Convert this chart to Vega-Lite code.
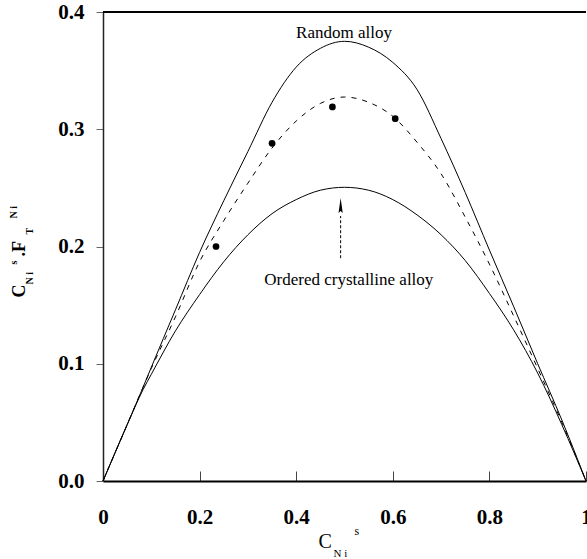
{
  "$schema": "https://vega.github.io/schema/vega-lite/v6.json",
  "width": 483,
  "height": 469,
  "autosize": {"type": "none"},
  "padding": {"left": 103, "top": 12, "right": 1, "bottom": 78},
  "background": "white",
  "config": {"view": {"stroke": null}},
  "datasets": {
    "curves": [
      {"series": "random", "c": 0, "v": 0},
      {"series": "random", "c": 0.05, "v": 0.048},
      {"series": "random", "c": 0.083, "v": 0.08},
      {"series": "random", "c": 0.1, "v": 0.097},
      {"series": "random", "c": 0.15, "v": 0.146},
      {"series": "random", "c": 0.2, "v": 0.195},
      {"series": "random", "c": 0.25, "v": 0.239},
      {"series": "random", "c": 0.3, "v": 0.281},
      {"series": "random", "c": 0.35, "v": 0.323},
      {"series": "random", "c": 0.4, "v": 0.353},
      {"series": "random", "c": 0.45, "v": 0.369},
      {"series": "random", "c": 0.5, "v": 0.375},
      {"series": "random", "c": 0.55, "v": 0.370},
      {"series": "random", "c": 0.6, "v": 0.357},
      {"series": "random", "c": 0.65, "v": 0.334},
      {"series": "random", "c": 0.7, "v": 0.292},
      {"series": "random", "c": 0.75, "v": 0.246},
      {"series": "random", "c": 0.8, "v": 0.197},
      {"series": "random", "c": 0.85, "v": 0.149},
      {"series": "random", "c": 0.9, "v": 0.100},
      {"series": "random", "c": 0.95, "v": 0.052},
      {"series": "random", "c": 1, "v": 0},
      {"series": "fit", "c": 0, "v": 0},
      {"series": "fit", "c": 0.05, "v": 0.048},
      {"series": "fit", "c": 0.083, "v": 0.08},
      {"series": "fit", "c": 0.1, "v": 0.096},
      {"series": "fit", "c": 0.15, "v": 0.140},
      {"series": "fit", "c": 0.2, "v": 0.187},
      {"series": "fit", "c": 0.25, "v": 0.222},
      {"series": "fit", "c": 0.3, "v": 0.254},
      {"series": "fit", "c": 0.35, "v": 0.284},
      {"series": "fit", "c": 0.4, "v": 0.307},
      {"series": "fit", "c": 0.45, "v": 0.322},
      {"series": "fit", "c": 0.5, "v": 0.3275},
      {"series": "fit", "c": 0.55, "v": 0.323},
      {"series": "fit", "c": 0.6, "v": 0.311},
      {"series": "fit", "c": 0.65, "v": 0.289},
      {"series": "fit", "c": 0.7, "v": 0.262},
      {"series": "fit", "c": 0.75, "v": 0.225},
      {"series": "fit", "c": 0.8, "v": 0.185},
      {"series": "fit", "c": 0.85, "v": 0.141},
      {"series": "fit", "c": 0.9, "v": 0.096},
      {"series": "fit", "c": 0.95, "v": 0.050},
      {"series": "fit", "c": 1, "v": 0},
      {"series": "ordered", "c": 0, "v": 0},
      {"series": "ordered", "c": 0.05, "v": 0.048},
      {"series": "ordered", "c": 0.083, "v": 0.078},
      {"series": "ordered", "c": 0.1, "v": 0.091},
      {"series": "ordered", "c": 0.15, "v": 0.128},
      {"series": "ordered", "c": 0.2, "v": 0.159},
      {"series": "ordered", "c": 0.25, "v": 0.187},
      {"series": "ordered", "c": 0.3, "v": 0.210},
      {"series": "ordered", "c": 0.35, "v": 0.228},
      {"series": "ordered", "c": 0.4, "v": 0.240},
      {"series": "ordered", "c": 0.45, "v": 0.248},
      {"series": "ordered", "c": 0.5, "v": 0.2505},
      {"series": "ordered", "c": 0.55, "v": 0.248},
      {"series": "ordered", "c": 0.6, "v": 0.240},
      {"series": "ordered", "c": 0.65, "v": 0.227},
      {"series": "ordered", "c": 0.7, "v": 0.210},
      {"series": "ordered", "c": 0.75, "v": 0.188},
      {"series": "ordered", "c": 0.8, "v": 0.160},
      {"series": "ordered", "c": 0.85, "v": 0.129},
      {"series": "ordered", "c": 0.9, "v": 0.092},
      {"series": "ordered", "c": 0.95, "v": 0.048},
      {"series": "ordered", "c": 1, "v": 0}
    ],
    "points": [
      {"c": 0.234, "v": 0.200},
      {"c": 0.350, "v": 0.288},
      {"c": 0.475, "v": 0.319},
      {"c": 0.605, "v": 0.309}
    ],
    "labels": [
      {"c": 0.499, "v": 0.378, "label": "Random alloy"},
      {"c": 0.509, "v": 0.167, "label": "Ordered crystalline alloy"}
    ],
    "arrow": [
      {"c": 0.492, "v": 0.19, "v2": 0.226, "tip": 0.235}
    ],
    "one": [{"k": 1}]
  },
  "layer": [
    {
      "data": {"name": "curves"},
      "transform": [{"filter": "datum.series !== 'fit'"}],
      "mark": {"type": "line", "color": "black", "strokeWidth": 1, "interpolate": "monotone"},
      "encoding": {
        "x": {
          "field": "c", "type": "quantitative",
          "scale": {"domain": [0, 1], "nice": false},
          "axis": {
            "title": null, "grid": false,
            "values": [0, 0.2, 0.4, 0.6, 0.8, 1],
            "labelExpr": "datum.value == 0 ? '0' : datum.value == 1 ? '1' : format(datum.value, '.1f')",
            "labelFont": "Liberation Serif", "labelFontWeight": "bold", "labelFontSize": 21,
            "labelColor": "black", "labelPadding": 35, "labelFlush": false,
            "tickSize": -10, "tickColor": "#444", "tickWidth": 1,
            "domainColor": "black", "domainWidth": 2
          }
        },
        "y": {
          "field": "v", "type": "quantitative",
          "scale": {"domain": [0, 0.4], "nice": false},
          "axis": {
            "title": null, "grid": false,
            "values": [0, 0.1, 0.2, 0.3, 0.4],
            "format": ".1f",
            "labelFont": "Liberation Serif", "labelFontWeight": "bold", "labelFontSize": 21,
            "labelColor": "black", "labelPadding": 12, "labelFlush": false,
            "tickSize": 7, "tickColor": "#666", "tickWidth": 1,
            "domainColor": "#222", "domainWidth": 1.5
          }
        },
        "detail": {"field": "series"}
      }
    },
    {
      "data": {"name": "curves"},
      "transform": [{"filter": "datum.series === 'fit'"}],
      "mark": {"type": "line", "color": "black", "strokeWidth": 1, "strokeDash": [5, 6], "interpolate": "monotone"},
      "encoding": {
        "x": {"field": "c", "type": "quantitative"},
        "y": {"field": "v", "type": "quantitative"}
      }
    },
    {
      "data": {"name": "points"},
      "mark": {"type": "circle", "color": "black", "opacity": 1, "size": 45},
      "encoding": {
        "x": {"field": "c", "type": "quantitative"},
        "y": {"field": "v", "type": "quantitative"}
      }
    },
    {
      "data": {"name": "one"},
      "mark": {"type": "rule", "color": "black", "strokeWidth": 2},
      "encoding": {
        "x": {"datum": 0},
        "x2": {"datum": 1},
        "y": {"datum": 0.4}
      }
    },
    {
      "data": {"name": "arrow"},
      "mark": {"type": "rule", "color": "black", "strokeWidth": 1, "strokeDash": [3, 2]},
      "encoding": {
        "x": {"field": "c", "type": "quantitative"},
        "y": {"field": "v", "type": "quantitative"},
        "y2": {"field": "v2"}
      }
    },
    {
      "data": {"name": "arrow"},
      "mark": {"type": "point", "shape": "M0,-1L0.28,1L0,0.75L-0.28,1Z", "filled": true, "color": "black", "opacity": 1, "size": 225},
      "encoding": {
        "x": {"field": "c", "type": "quantitative"},
        "y": {"field": "tip", "type": "quantitative"}
      }
    },
    {
      "data": {"name": "labels"},
      "mark": {"type": "text", "font": "Liberation Serif", "fontSize": 17, "color": "black", "align": "center", "baseline": "alphabetic"},
      "encoding": {
        "x": {"field": "c", "type": "quantitative"},
        "y": {"field": "v", "type": "quantitative"},
        "text": {"field": "label"}
      }
    },
    {
      "data": {"name": "one"},
      "mark": {"type": "text", "text": "C", "font": "Liberation Serif", "fontSize": 20, "color": "black", "align": "left", "baseline": "alphabetic", "dx": -26, "dy": 67},
      "encoding": {"x": {"datum": 0.5}, "y": {"datum": 0}}
    },
    {
      "data": {"name": "one"},
      "mark": {"type": "text", "text": "N i", "font": "Liberation Serif", "fontSize": 11, "color": "black", "align": "left", "baseline": "alphabetic", "dx": -11, "dy": 76},
      "encoding": {"x": {"datum": 0.5}, "y": {"datum": 0}}
    },
    {
      "data": {"name": "one"},
      "mark": {"type": "text", "text": "s", "font": "Liberation Serif", "fontSize": 12, "color": "black", "align": "left", "baseline": "alphabetic", "dx": 10, "dy": 54},
      "encoding": {"x": {"datum": 0.5}, "y": {"datum": 0}}
    },
    {
      "data": {"name": "one"},
      "mark": {"type": "text", "text": "C", "font": "Liberation Serif", "fontWeight": "bold", "fontSize": 18, "color": "black", "align": "left", "baseline": "alphabetic", "angle": 270, "dx": -51, "dy": -78},
      "encoding": {"x": {"datum": 0}, "y": {"datum": 0.2}}
    },
    {
      "data": {"name": "one"},
      "mark": {"type": "text", "text": "N i", "font": "Liberation Serif", "fontWeight": "bold", "fontSize": 10, "color": "black", "align": "left", "baseline": "alphabetic", "angle": 270, "dx": -38, "dy": -70},
      "encoding": {"x": {"datum": 0}, "y": {"datum": 0.2}}
    },
    {
      "data": {"name": "one"},
      "mark": {"type": "text", "text": "s", "font": "Liberation Serif", "fontWeight": "bold", "fontSize": 10, "color": "black", "align": "left", "baseline": "alphabetic", "angle": 270, "dx": -18, "dy": -86},
      "encoding": {"x": {"datum": 0}, "y": {"datum": 0.2}}
    },
    {
      "data": {"name": "one"},
      "mark": {"type": "text", "text": ".F", "font": "Liberation Serif", "fontWeight": "bold", "fontSize": 18, "color": "black", "align": "left", "baseline": "alphabetic", "angle": 270, "dx": -10, "dy": -78},
      "encoding": {"x": {"datum": 0}, "y": {"datum": 0.2}}
    },
    {
      "data": {"name": "one"},
      "mark": {"type": "text", "text": "T", "font": "Liberation Serif", "fontWeight": "bold", "fontSize": 10, "color": "black", "align": "left", "baseline": "alphabetic", "angle": 270, "dx": 12, "dy": -70},
      "encoding": {"x": {"datum": 0}, "y": {"datum": 0.2}}
    },
    {
      "data": {"name": "one"},
      "mark": {"type": "text", "text": "N i", "font": "Liberation Serif", "fontWeight": "bold", "fontSize": 10, "color": "black", "align": "left", "baseline": "alphabetic", "angle": 270, "dx": 28, "dy": -86},
      "encoding": {"x": {"datum": 0}, "y": {"datum": 0.2}}
    }
  ]
}
